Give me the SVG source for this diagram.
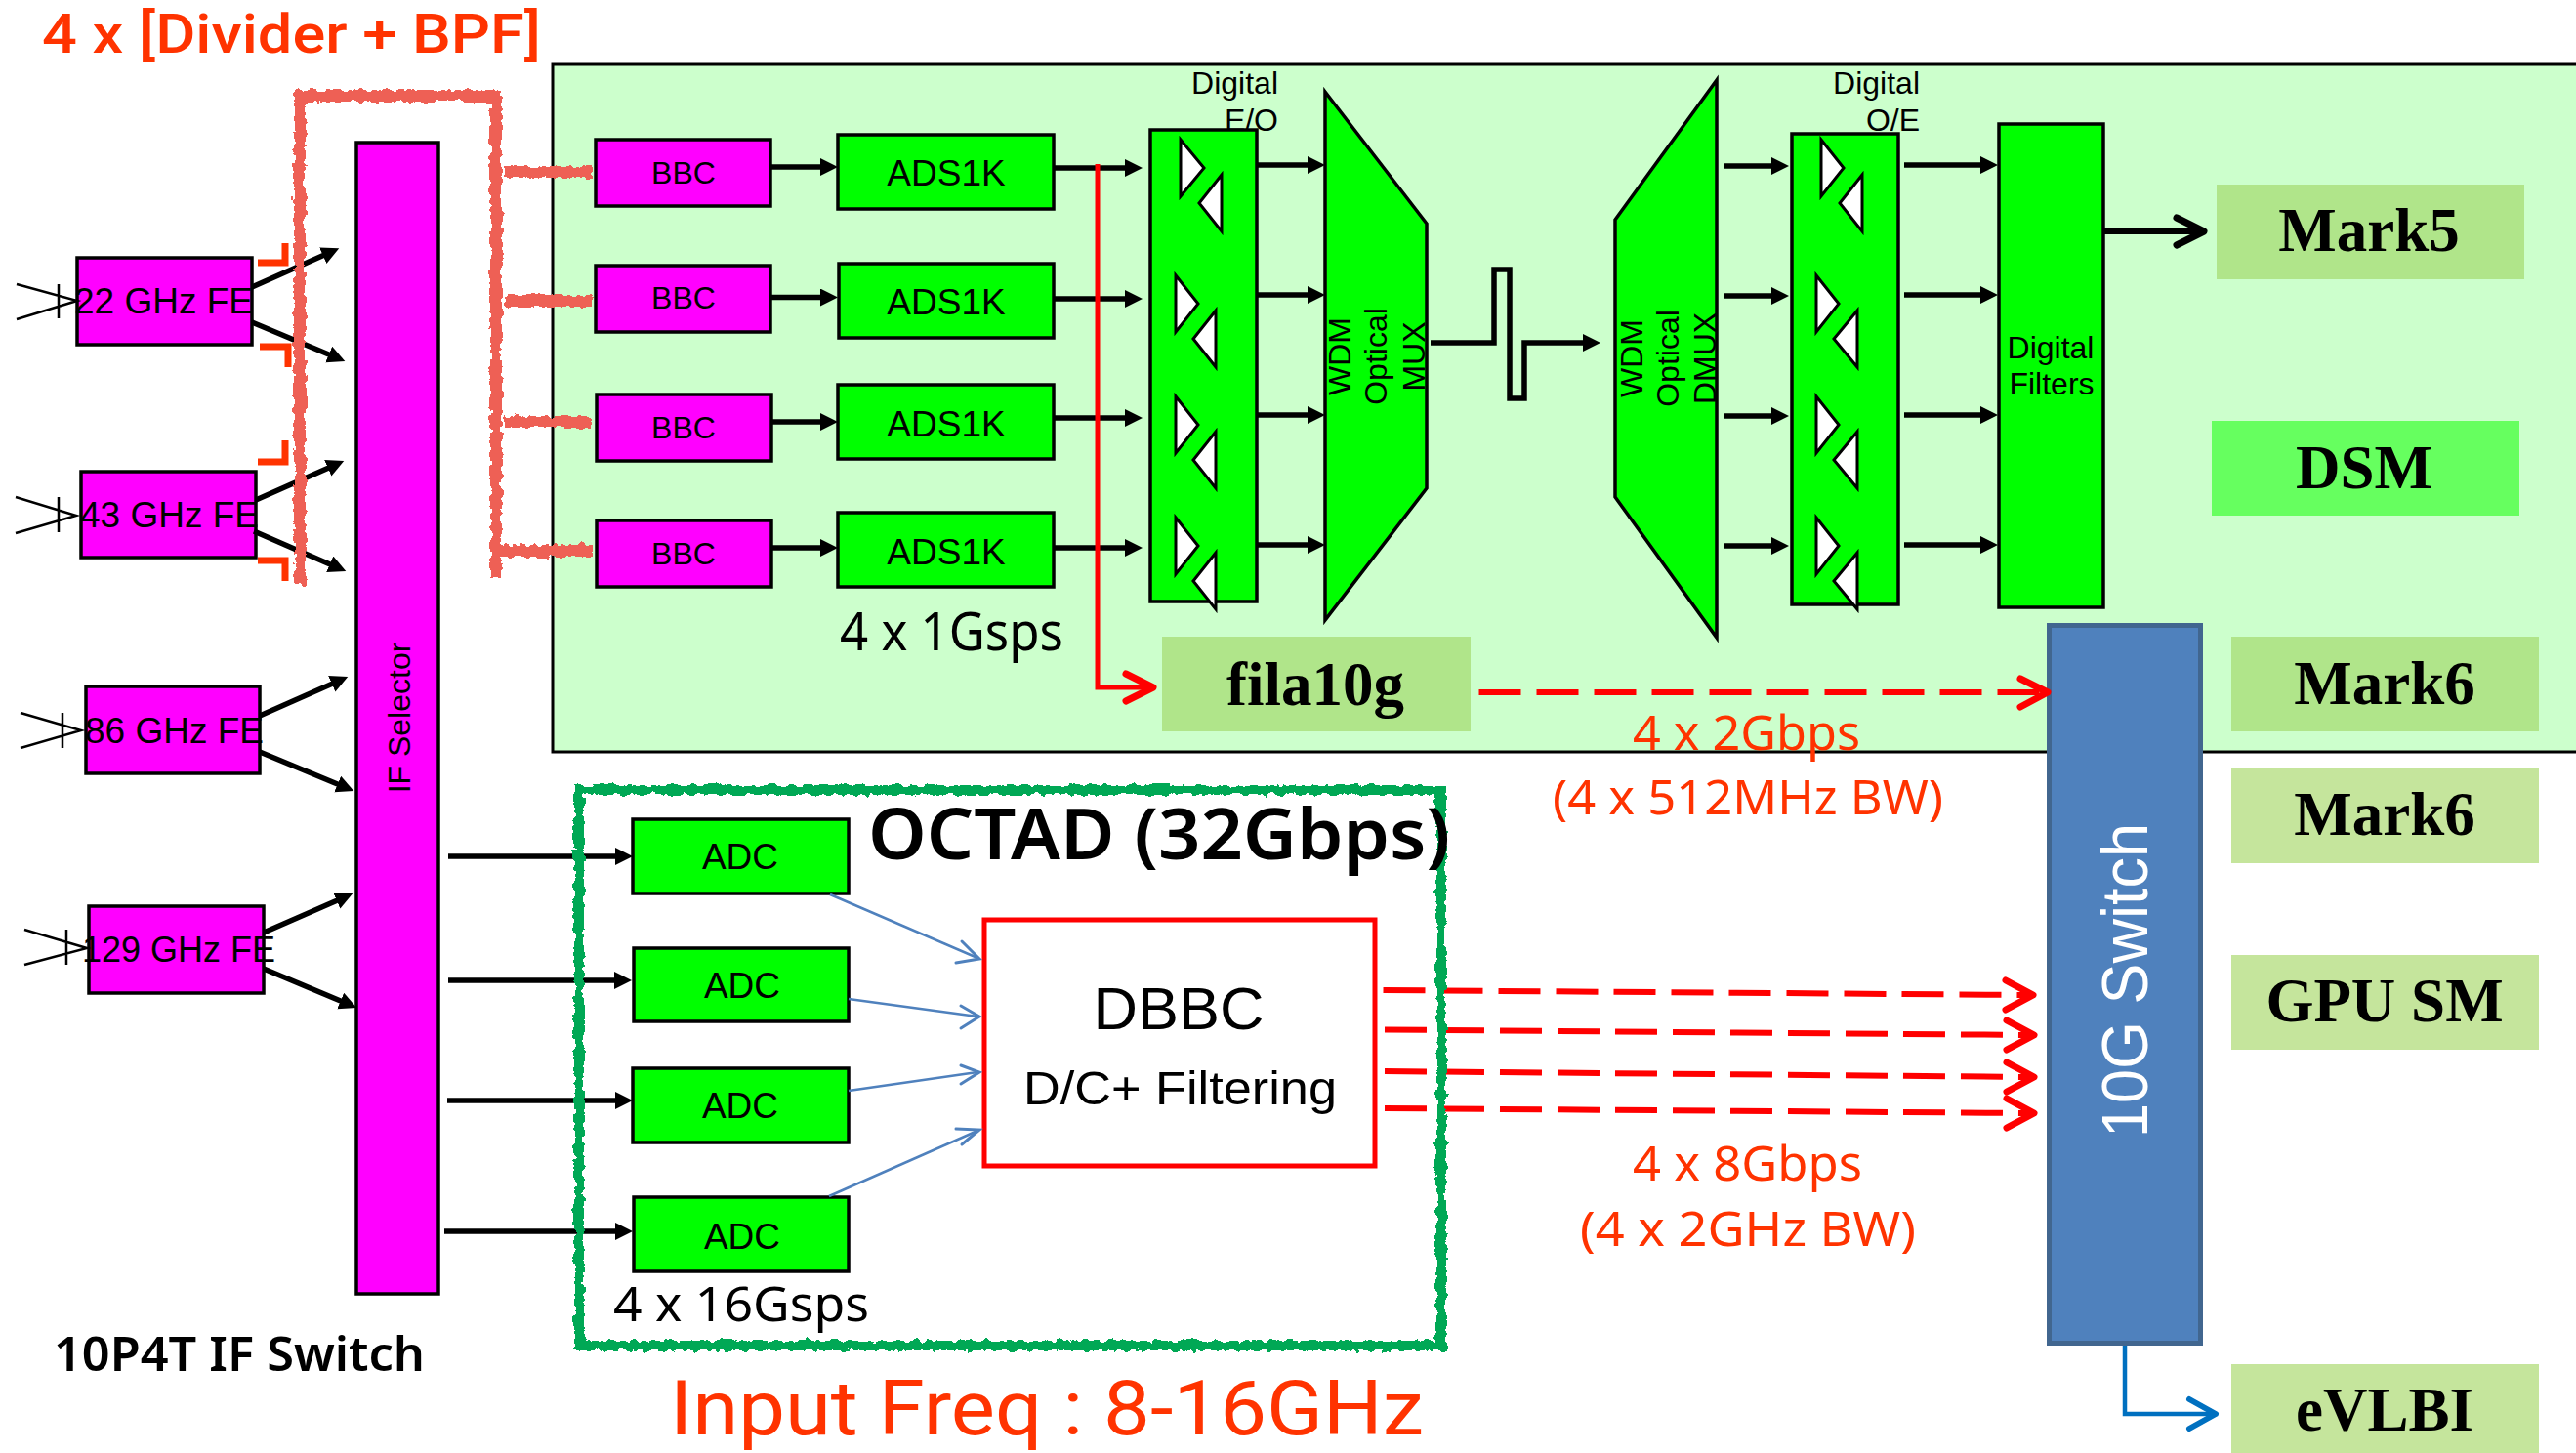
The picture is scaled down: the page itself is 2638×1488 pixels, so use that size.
<svg xmlns="http://www.w3.org/2000/svg" width="2638" height="1488" viewBox="0 0 2638 1488">
<style>
text{font-family:"Liberation Sans",Arial,sans-serif;fill:#000}
.n{font-family:"Noto Sans","Noto Sans CJK KR",sans-serif}
.r{font-family:Roboto,"Noto Sans",sans-serif}
.o{fill:#ff3300}
.m{font-family:"Liberation Serif","Times New Roman",serif;font-weight:bold;font-size:63px;text-anchor:middle}
.mag{fill:#ff00ff;stroke:#000;stroke-width:3.5}
.grn{fill:#00ff00;stroke:#000;stroke-width:3.5}
.t{fill:#fff;stroke:#000;stroke-width:3}
.a{fill:none;stroke:#000;stroke-width:5.5;marker-end:url(#tri)}
.ant{fill:none;stroke:#000;stroke-width:2.5}
.c{font-size:37px;text-anchor:middle}
.f{font-size:32px;text-anchor:middle}
.w{font-size:32px;text-anchor:middle}
.dash{fill:none;stroke:#ff0000;stroke-width:6;stroke-dasharray:43 16}
.hd{fill:none;stroke:#ff0000;stroke-width:7;stroke-linecap:round;stroke-linejoin:round}
.bl{fill:none;stroke:#4f81bd;stroke-width:2.5}
.bh{fill:none;stroke:#4f81bd;stroke-width:3;stroke-linecap:round}
.cor{fill:none;stroke:#ff3300;stroke-width:7}
.pk{fill:none;stroke:#ee6055;stroke-width:12}
</style>
<defs>
<marker id="tri" markerUnits="userSpaceOnUse" markerWidth="20" markerHeight="20" refX="9" refY="9" orient="auto"><path d="M0 0L18 9L0 18Z" fill="#000"/></marker>
<filter id="sk" filterUnits="userSpaceOnUse" x="0" y="0" width="2638" height="1488"><feTurbulence type="fractalNoise" baseFrequency="0.12" numOctaves="3" seed="4"/><feDisplacementMap in="SourceGraphic" scale="9" xChannelSelector="R" yChannelSelector="G"/></filter>
</defs>
<rect width="2638" height="1488" fill="#fff"/>
<g id="panel"><rect x="566" y="66" width="2074" height="704" fill="#ccffcc" stroke="#000" stroke-width="3"/></g>

<g id="fe22"><rect class="mag" x="79" y="264" width="179" height="89"/><text class="c" x="76" y="321" style="text-anchor:start">22 GHz FE</text><path class="ant" d="M17 291L79 308L17 327M60 291V326"/></g>
<g id="fe43"><rect class="mag" x="83" y="483" width="179" height="88"/><text class="c" x="82" y="540" style="text-anchor:start">43 GHz FE</text><path class="ant" d="M16 509L78 528L16 546M60 509V545"/></g>
<g id="fe86"><rect class="mag" x="88" y="703" width="178" height="89"/><text class="c" x="87" y="761" style="text-anchor:start">86 GHz FE</text><path class="ant" d="M21 730L83 748L21 766M64 730V766"/></g>
<g id="fe129"><rect class="mag" x="91" y="928" width="179" height="89"/><text class="c" x="84" y="985" style="text-anchor:start;font-size:36px">129 GHz FE</text><path class="ant" d="M25 952L89 971L25 988M68 952V988"/></g>
<g id="if-selector"><rect class="mag" x="365" y="146" width="84" height="1179"/><text font-size="32" text-anchor="middle" transform="translate(420 735) rotate(-90)">IF Selector</text></g>

<g id="bbc1"><rect class="mag" x="610" y="143" width="179" height="68"/><text class="f" x="700" y="188">BBC</text></g>
<g id="bbc2"><rect class="mag" x="610" y="272" width="179" height="68"/><text class="f" x="700" y="316">BBC</text></g>
<g id="bbc3"><rect class="mag" x="611" y="404" width="179" height="68"/><text class="f" x="700" y="449">BBC</text></g>
<g id="bbc4"><rect class="mag" x="611" y="533" width="179" height="68"/><text class="f" x="700" y="578">BBC</text></g>

<g id="ads1"><rect class="grn" x="858" y="138" width="221" height="76"/><text class="c" x="969" y="190">ADS1K</text></g>
<g id="ads2"><rect class="grn" x="859" y="270" width="220" height="76"/><text class="c" x="969" y="322">ADS1K</text></g>
<g id="ads3"><rect class="grn" x="858" y="394" width="221" height="76"/><text class="c" x="969" y="447">ADS1K</text></g>
<g id="ads4"><rect class="grn" x="858" y="525" width="221" height="76"/><text class="c" x="969" y="578">ADS1K</text></g>
<text class="n" x="860" y="666" font-size="54" textLength="229" lengthAdjust="spacingAndGlyphs">4 x 1Gsps</text>

<g id="eo"><rect class="grn" x="1178" y="133" width="109" height="483"/>
<path class="t" d="M1209 143L1233 172L1209 201ZM1251 179L1228 208L1251 237ZM1204 282L1227 311L1204 340ZM1245 318L1222 347L1245 376ZM1204 406L1227 435L1204 464ZM1245 442L1222 471L1245 500ZM1204 530L1227 559L1204 588ZM1245 566L1222 595L1245 624Z"/>
<text class="w" x="1309" y="96" style="text-anchor:end">Digital</text><text class="w" x="1309" y="134" style="text-anchor:end">E/O</text></g>
<g id="mux"><path class="grn" d="M1357 94L1461 229V500L1357 635Z"/>
<text class="w" transform="translate(1383 365) rotate(-90)">WDM</text><text class="w" transform="translate(1420 365) rotate(-90)">Optical</text><text class="w" transform="translate(1459 365) rotate(-90)">MUX</text></g>
<g id="dmux"><path class="grn" d="M1758 82L1654 225V509L1758 653Z"/>
<text class="w" transform="translate(1682 367) rotate(-90)">WDM</text><text class="w" transform="translate(1719 367) rotate(-90)">Optical</text><text class="w" transform="translate(1757 367) rotate(-90)">DMUX</text></g>
<g id="oe"><rect class="grn" x="1835" y="137" width="109" height="482"/>
<path class="t" d="M1865 143L1888 172L1865 201ZM1907 179L1884 208L1907 237ZM1860 282L1883 311L1860 340ZM1902 318L1878 347L1902 376ZM1860 406L1883 435L1860 464ZM1902 442L1878 471L1902 500ZM1860 530L1883 559L1860 588ZM1902 566L1878 595L1902 624Z"/>
<text class="w" x="1966" y="96" style="text-anchor:end">Digital</text><text class="w" x="1966" y="134" style="text-anchor:end">O/E</text></g>
<g id="filters"><rect class="grn" x="2047" y="127" width="107" height="495"/><text class="w" x="2100" y="367">Digital</text><text class="w" x="2101" y="404">Filters</text></g>

<g id="mark5"><rect x="2270" y="189" width="315" height="97" fill="#b0e58a"/><text class="m" x="2426" y="257">Mark5</text></g>
<g id="dsm"><rect x="2265" y="431" width="315" height="97" fill="#66ff5f"/><text class="m" x="2421" y="500">DSM</text></g>
<g id="mark6a"><rect x="2285" y="652" width="315" height="97" fill="#b0e58a"/><text class="m" x="2442" y="721">Mark6</text></g>
<g id="fila10g"><rect x="1190" y="652" width="316" height="97" fill="#b0e58a"/><text class="m" x="1347" y="722">fila10g</text></g>
<g id="mark6b"><rect x="2285" y="787" width="315" height="97" fill="#c5e59c"/><text class="m" x="2442" y="855">Mark6</text></g>
<g id="gpusm"><rect x="2285" y="978" width="315" height="97" fill="#c5e59c"/><text class="m" x="2442" y="1046">GPU SM</text></g>
<g id="evlbi"><rect x="2285" y="1397" width="315" height="91" fill="#c5e59c"/><text class="m" x="2442" y="1465">eVLBI</text></g>
<g id="switch"><rect x="2098.500" y="640.500" width="155" height="735" fill="#4f81bd" stroke="#41668f" stroke-width="5"/><text font-size="66" text-anchor="middle" textLength="322" lengthAdjust="spacingAndGlyphs" style="fill:#fff" transform="translate(2199 1004) rotate(-90)">10G Switch</text></g>

<g id="adc1"><rect class="grn" x="648" y="839" width="221" height="76"/><text class="c" x="758" y="890">ADC</text></g>
<g id="adc2"><rect class="grn" x="649" y="971" width="220" height="75"/><text class="c" x="760" y="1022">ADC</text></g>
<g id="adc3"><rect class="grn" x="648" y="1094" width="221" height="76"/><text class="c" x="758" y="1145">ADC</text></g>
<g id="adc4"><rect class="grn" x="649" y="1226" width="220" height="76"/><text class="c" x="760" y="1279">ADC</text></g>
<g id="dbbc"><rect x="1008" y="942" width="400" height="252" fill="#fff" stroke="#ff0000" stroke-width="5"/><text x="1207" y="1054" font-size="61" text-anchor="middle" textLength="175" lengthAdjust="spacingAndGlyphs">DBBC</text><text x="1048" y="1131" font-size="48" textLength="321" lengthAdjust="spacingAndGlyphs">D/C+ Filtering</text></g>

<g id="connectors">
<path class="a" d="M258 294L339 258"/><path class="a" d="M258 330L345 366.500"/>
<path class="a" d="M262 512L344 475.700"/><path class="a" d="M260 544L346 581.400"/>
<path class="a" d="M266 733L348 696.700"/><path class="a" d="M266 770L354 806.500"/>
<path class="a" d="M270 955L353 918.700"/><path class="a" d="M270 992L357 1028.500"/>
<path class="a" d="M789 171H849"/><path class="a" d="M789 304.500H849"/><path class="a" d="M790 432H849"/><path class="a" d="M790 561H849"/>
<path class="a" d="M1079 172H1161"/><path class="a" d="M1079 306H1161"/><path class="a" d="M1079 428H1161"/><path class="a" d="M1079 561H1161"/>
<path class="a" d="M1287 169H1348"/><path class="a" d="M1286 302H1348"/><path class="a" d="M1287 425H1348"/><path class="a" d="M1286 558H1348"/>
<path class="a" d="M1465 351H1530V276H1546V408H1561V351H1630"/>
<path class="a" d="M1766 170H1823"/><path class="a" d="M1765 303H1823"/><path class="a" d="M1766 426H1823"/><path class="a" d="M1765 559H1823"/>
<path class="a" d="M1950 169H2037"/><path class="a" d="M1950 302H2037"/><path class="a" d="M1950 425H2037"/><path class="a" d="M1950 558H2037"/>
<path d="M2154 237H2254" fill="none" stroke="#000" stroke-width="6"/><path d="M2229 223L2257 237L2229 251" fill="none" stroke="#000" stroke-width="7" stroke-linecap="round" stroke-linejoin="round"/>
<path class="a" d="M459 877H639"/><path class="a" d="M459 1004H638"/><path class="a" d="M458 1127H639"/><path class="a" d="M455 1261H639"/>
<path class="bl" d="M850 916L1001 981"/><path class="bh" d="M985 964L1003 982L979 986"/>
<path class="bl" d="M869 1023L1001 1041"/><path class="bh" d="M984 1030L1003 1041L984 1053"/>
<path class="bl" d="M869 1117L1001 1098"/><path class="bh" d="M984 1091L1003 1098L984 1110"/>
<path class="bl" d="M849 1225L1001 1158"/><path class="bh" d="M979 1156L1003 1157L985 1172"/>
<path d="M1124 168V704H1178" fill="none" stroke="#ff0000" stroke-width="5"/><path class="hd" d="M1153 690L1181 704L1153 718"/>
<path class="dash" d="M1514.500 709H2094"/><path class="hd" d="M2069 695L2097 709L2069 724"/>
<path class="dash" d="M1416.500 1014L2079 1019"/><path class="hd" d="M2054 1004L2082 1019L2054 1034"/>
<path class="dash" d="M1418 1054.500L2080 1060"/><path class="hd" d="M2055 1045L2083 1060L2055 1075"/>
<path class="dash" d="M1418 1097L2080 1103"/><path class="hd" d="M2055 1088L2083 1103L2055 1118"/>
<path class="dash" d="M1418 1135L2080 1140"/><path class="hd" d="M2055 1125L2083 1140L2055 1155"/>
<path d="M2176 1378V1448H2266" fill="none" stroke="#0070c0" stroke-width="4.500"/><path d="M2242 1433L2269 1448L2242 1463" fill="none" stroke="#0070c0" stroke-width="6" stroke-linecap="round" stroke-linejoin="round"/>
</g>

<g id="divider-marks">
<path class="cor" d="M264 269H292V249"/><path class="cor" d="M266 355H295V376"/><path class="cor" d="M264 473H292V451"/><path class="cor" d="M264 574H292V595"/>
<g filter="url(#sk)"><path class="pk" d="M307 598V98H508V591"/><path class="pk" d="M517 176H606M517 308H606M517 432H606M508 564H606"/></g>
</g>
<g id="octad"><path d="M593 809H1476V1378H593Z" fill="none" stroke="#06a855" stroke-width="10" filter="url(#sk)"/></g>

<text class="r o" x="43" y="54" font-size="56" font-weight="500" textLength="511" lengthAdjust="spacingAndGlyphs">4 x [Divider + BPF]</text>
<text class="n" x="889" y="880" font-size="73" font-weight="600" textLength="596" lengthAdjust="spacingAndGlyphs">OCTAD (32Gbps)</text>
<text class="n" x="628" y="1353" font-size="50" textLength="262" lengthAdjust="spacingAndGlyphs">4 x 16Gsps</text>
<text class="r o" x="686" y="1469" font-size="77" textLength="772" lengthAdjust="spacingAndGlyphs">Input Freq : 8-16GHz</text>
<text class="n" x="55" y="1404" font-size="48" font-weight="600" textLength="380" lengthAdjust="spacingAndGlyphs">10P4T IF Switch</text>
<text class="n o" x="1672" y="768" font-size="50" textLength="233" lengthAdjust="spacingAndGlyphs">4 x 2Gbps</text>
<text class="n o" x="1590" y="834" font-size="50" textLength="400" lengthAdjust="spacingAndGlyphs">(4 x 512MHz BW)</text>
<text class="n o" x="1672" y="1209" font-size="50" textLength="235" lengthAdjust="spacingAndGlyphs">4 x 8Gbps</text>
<text class="n o" x="1618" y="1276" font-size="50" textLength="344" lengthAdjust="spacingAndGlyphs">(4 x 2GHz BW)</text>
</svg>
